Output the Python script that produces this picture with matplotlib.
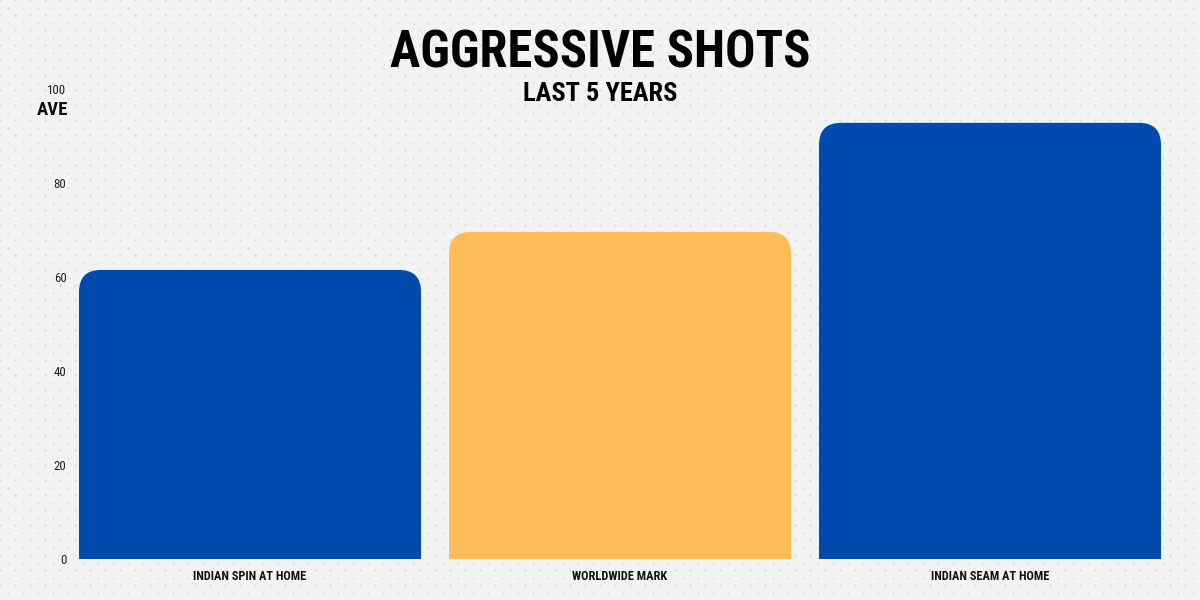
import os
import numpy as np
from matplotlib import pyplot as plt
from matplotlib import font_manager as fm
from matplotlib.path import Path
from matplotlib.patches import PathPatch

categories = ["INDIAN SPIN AT HOME", "WORLDWIDE MARK", "INDIAN SEAM AT HOME"]
averages = [61.5, 69.6, 92.8]
bar_colors = ["#004AAD", "#FFBD59", "#004AAD"]
yticks = [0, 20, 40, 60, 80, 100]


def norm(fn):
    b = os.path.splitext(os.path.basename(fn))[0].lower()
    for ch in "-_ ":
        b = b.replace(ch, "")
    return b


FILES = {norm(f.fname): f.fname for f in fm.fontManager.ttflist}


def pick(prefs, fallback_weight):
    for p in prefs:
        if p in FILES:
            return fm.FontProperties(fname=FILES[p])
    return fm.FontProperties(family="DejaVu Sans", weight=fallback_weight)


title_fp = pick(["notosansextracondensedblack", "notosansextracondensedextrabold",
                 "notosanscondensedblack", "robotocondensedblack", "robotocondensedbold",
                 "notosanscondensedbold", "liberationsansnarrowbold",
                 "dejavusanscondensedbold", "opensanscondbold", "opensanscondensedbold"], "bold")
label_fp = pick(["notosanscondensedbold", "notosansextracondensedbold", "robotocondensedbold",
                 "liberationsansnarrowbold", "dejavusanscondensedbold",
                 "opensanscondbold", "opensanscondensedbold"], "bold")
tick_fp = pick(["notosanscondensedmedium", "notosanscondensed", "notosanscondensedregular",
                "robotocondensedregular", "robotocondensed", "liberationsansnarrowregular",
                "liberationsansnarrow", "dejavusanscondensed"], "normal")

fig = plt.figure(figsize=(12, 6), dpi=100)
fig.patch.set_facecolor("#f3f3f3")
renderer = fig.canvas.get_renderer()


def fit_size(s, fp, target_px):
    t = fig.text(0, 0, s, fontproperties=fp, fontsize=10)
    w = t.get_window_extent(renderer=renderer).width
    t.remove()
    return 10 * target_px / w


# dotted background texture
bg = fig.add_axes([0, 0, 1, 1], zorder=-10)
bg.set_xlim(0, 1200)
bg.set_ylim(600, 0)
bg.axis("off")
gx, gy = np.meshgrid(np.arange(0, 1200, 15), np.arange(0, 600, 15))
bg.scatter(gx.ravel(), gy.ravel(), s=3, color="#dcdcdc", lw=0)
bg.scatter(gx.ravel() + 7.5, gy.ravel() + 7.5, s=3, color="#e2e2e2", lw=0)

ax = fig.add_axes([79 / 1200, 41 / 600, 1082 / 1200, 470 / 600])
ax.set_facecolor("none")
width = 342 / 370
bars = ax.bar(range(len(categories)), averages, width=width)
ax.set_xlim(-width / 2, len(categories) - 1 + width / 2)
ax.set_ylim(0, 100)

# rounded top corners (radius ~22 px)
rx = 22 / 370
ry = 22 / 4.7
for bar, c in zip(bars, bar_colors):
    bar.set_visible(False)
    x0, y0 = bar.get_x(), bar.get_y()
    x1, y1 = x0 + bar.get_width(), y0 + bar.get_height()
    verts = [(x0, y0), (x0, y1 - ry), (x0, y1), (x0 + rx, y1),
             (x1 - rx, y1), (x1, y1), (x1, y1 - ry), (x1, y0), (x0, y0)]
    codes = [Path.MOVETO, Path.LINETO, Path.CURVE3, Path.CURVE3,
             Path.LINETO, Path.CURVE3, Path.CURVE3, Path.LINETO, Path.CLOSEPOLY]
    ax.add_patch(PathPatch(Path(verts, codes), facecolor=c, edgecolor="none"))

for s in ax.spines.values():
    s.set_visible(False)

tick_size = fit_size("100", tick_fp, 19)
label_size = fit_size(categories[0], label_fp, 112)

ax.set_yticks(yticks)
ax.set_yticklabels([str(v) for v in yticks], fontproperties=tick_fp, color="#222222")
for t in ax.get_yticklabels():
    t.set_fontsize(tick_size)
ax.set_xticks(range(len(categories)))
ax.set_xticklabels(categories, fontproperties=label_fp, color="#111111")
for t in ax.get_xticklabels():
    t.set_fontsize(label_size)
ax.tick_params(length=0)
ax.tick_params(axis="y", pad=9)
ax.tick_params(axis="x", pad=8)

fig.text(68 / 1200, 1 - 110 / 600, "AVE", ha="right", va="center",
         fontproperties=label_fp, fontsize=fit_size("AVE", label_fp, 31), color="#111111")
fig.text(0.5, 1 - 54 / 600, "AGGRESSIVE SHOTS", ha="center", va="center",
         fontproperties=title_fp, fontsize=fit_size("AGGRESSIVE SHOTS", title_fp, 418),
         color="black")
fig.text(0.5, 1 - 94 / 600, "LAST 5 YEARS", ha="center", va="center",
         fontproperties=title_fp, fontsize=fit_size("LAST 5 YEARS", title_fp, 154),
         color="black")

fig.savefig("out.png", dpi=100, facecolor=fig.get_facecolor())
